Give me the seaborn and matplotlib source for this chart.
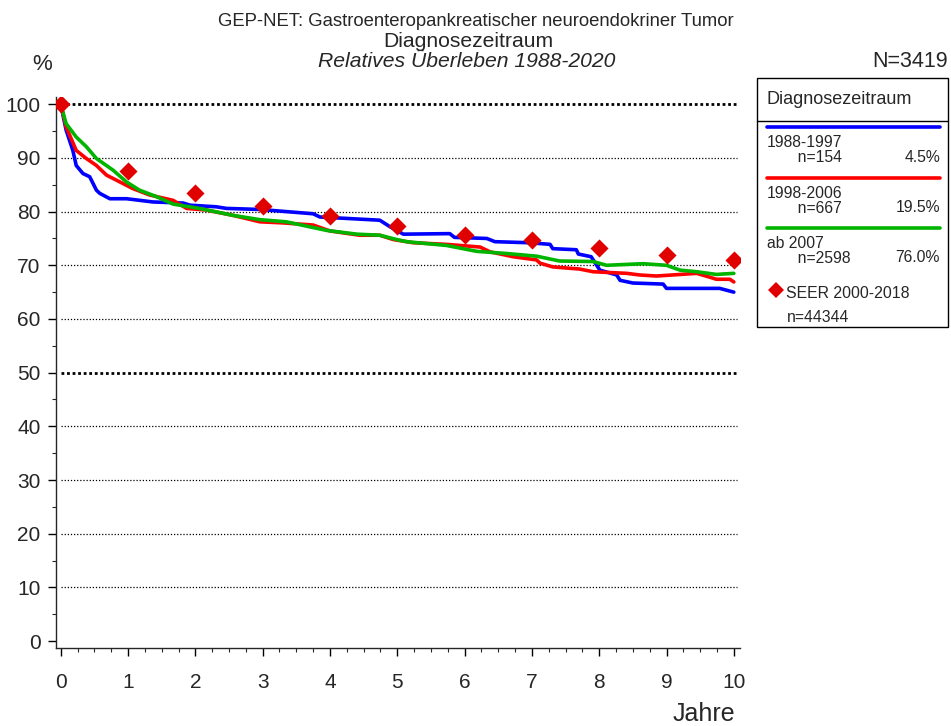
import matplotlib
matplotlib.use("Agg")
import matplotlib.pyplot as plt
import seaborn as sns
import pandas as pd
import numpy as np
from matplotlib.ticker import MultipleLocator
from matplotlib.patches import Rectangle
from matplotlib.lines import Line2D

# ---- data ----
blue_x = [0, 0.08, 0.13, 0.18, 0.23, 0.33, 0.43, 0.53, 0.58, 0.73, 0.98, 1.37, 1.82, 1.92, 2.31, 2.46,
          2.96, 3.75, 3.85, 4.74, 4.89, 5.09, 5.78, 5.85, 6.33, 6.45, 6.97, 7.27, 7.31, 7.66, 7.69,
          7.88, 8.01, 8.26, 8.31, 8.5, 8.95, 9.0, 9.79, 10.0]
blue_y = [100, 95.2, 93.3, 91.4, 88.6, 87.1, 86.5, 84.0, 83.4, 82.4, 82.4, 81.8, 81.6, 81.2, 80.9, 80.6,
          80.4, 79.6, 79.0, 78.4, 77.2, 75.8, 75.9, 75.2, 75.0, 74.4, 74.2, 73.9, 73.1, 72.9, 72.1,
          71.6, 69.1, 68.2, 67.2, 66.7, 66.5, 65.7, 65.7, 65.0]

red_x = [0, 0.08, 0.23, 0.38, 0.53, 0.68, 0.93, 1.07, 1.32, 1.67, 1.87, 2.16, 2.56, 2.96, 3.30, 3.75,
         4.0, 4.44, 4.74, 4.94, 5.24, 5.73, 6.23, 6.38, 6.72, 7.07, 7.12, 7.31, 7.71, 7.91, 8.41,
         8.60, 8.85, 9.45, 9.64, 9.74, 9.94, 10.0]
red_y = [100, 95.8, 91.4, 89.9, 88.6, 86.8, 85.2, 84.3, 83.1, 82.1, 80.6, 80.3, 79.3, 78.1, 77.9, 77.5,
         76.4, 75.6, 75.6, 74.8, 74.2, 73.9, 73.4, 72.5, 71.6, 71.0, 70.4, 69.7, 69.3, 68.8, 68.5,
         68.2, 68.0, 68.5, 67.8, 67.4, 67.4, 66.9]

green_x = [0, 0.08, 0.23, 0.38, 0.53, 0.78, 0.98, 1.17, 1.42, 1.67, 2.06, 2.56, 2.96, 3.35, 3.95, 4.40,
           4.74, 4.99, 5.14, 5.73, 6.18, 6.62, 7.07, 7.41, 7.91, 8.11, 8.65, 9.0, 9.20, 9.45, 9.74, 10.0]
green_y = [100, 96.4, 93.9, 92.1, 89.9, 87.7, 85.5, 84.0, 82.8, 81.4, 80.6, 79.3, 78.5, 78.1, 76.5, 75.8,
           75.6, 74.8, 74.4, 73.7, 72.6, 72.2, 71.7, 70.8, 70.7, 70.0, 70.3, 70.0, 69.1, 68.8, 68.3, 68.5]

seer_x = [0, 1, 2, 3, 4, 5, 6, 7, 8, 9, 10]
seer_y = [100, 87.6, 83.4, 81.0, 79.1, 77.3, 75.6, 74.7, 73.3, 71.9, 71.0]

groups = ["1988-1997", "1998-2006", "ab 2007"]
group_n = ["n=154", "n=667", "n=2598"]
group_pct = ["4.5%", "19.5%", "76.0%"]
colors = ["#0000ff", "#ff0000", "#00b400"]
y_ticks = [0, 10, 20, 30, 40, 50, 60, 70, 80, 90, 100]
x_ticks = [0, 1, 2, 3, 4, 5, 6, 7, 8, 9, 10]

df = pd.concat([
    pd.DataFrame({"Jahre": blue_x, "Surv": blue_y, "Gruppe": groups[0]}),
    pd.DataFrame({"Jahre": red_x, "Surv": red_y, "Gruppe": groups[1]}),
    pd.DataFrame({"Jahre": green_x, "Surv": green_y, "Gruppe": groups[2]}),
], ignore_index=True)

sns.set_style("ticks")
plt.rcParams['font.family'] = ['Liberation Sans', 'DejaVu Sans']

fig = plt.figure(figsize=(9.51, 7.26), dpi=100)
ax = fig.add_axes([0.0589, 0.1074, 0.7191, 0.7586])

# grid lines
for yv in y_ticks[1:]:
    thick = yv in (50, 100)
    ax.hlines(yv, 0, 10.05, colors="black", linestyles=(0, (1, 1.5)) if not thick else (0, (1, 1)),
              linewidth=2.0 if thick else 0.9, zorder=1)

sns.lineplot(data=df, x="Jahre", y="Surv", hue="Gruppe", palette=colors, estimator=None,
             sort=False, linewidth=2.6, legend=False, ax=ax, zorder=3)
sns.scatterplot(x=seer_x, y=seer_y, marker="D", s=85, color="#e00000", edgecolor="#e00000",
                linewidth=0, ax=ax, zorder=4)

ax.set_xlim(-0.07, 10.09)
ax.set_ylim(-1.3, 101.3)
ax.set_xticks(x_ticks)
ax.set_yticks(y_ticks)
ax.xaxis.set_minor_locator(MultipleLocator(0.25))
ax.yaxis.set_minor_locator(MultipleLocator(5))
ax.tick_params(axis="both", which="major", labelsize=15, length=6, width=1, color="black")
ax.tick_params(axis="x", which="major", pad=12)
ax.tick_params(axis="y", which="major", pad=5)
ax.tick_params(axis="both", which="minor", length=3, width=0.8)
ax.set_xlabel("")
ax.set_ylabel("")
for s in ["top", "right"]:
    ax.spines[s].set_visible(False)
ax.spines["left"].set_linewidth(1)
ax.spines["bottom"].set_linewidth(1)

# titles
fig.text(0.5005, 0.970, "GEP-NET: Gastroenteropankreatischer neuroendokriner Tumor",
         ha="center", va="center", fontsize=13.3)
fig.text(0.4921, 0.943, "Diagnosezeitraum", ha="center", va="center", fontsize=15.2)
fig.text(0.4911, 0.915, "Relatives Überleben 1988-2020", ha="center", va="center",
         fontsize=15.2, style="italic")
fig.text(0.997, 0.915, "N=3419", ha="right", va="center", fontsize=15.5)
fig.text(0.044, 0.911, "%", ha="center", va="center", fontsize=16)
fig.text(0.740, 0.016, "Jahre", ha="center", va="center", fontsize=18)

# legend box
W, H = 951.0, 726.0
def fx(px):
    return px / W
def fy(py):
    return 1 - py / H

fig.patches.append(Rectangle((fx(757), fy(327)), fx(948) - fx(757), fy(78) - fy(327),
                             transform=fig.transFigure, fill=False, edgecolor="black", linewidth=1))
fig.lines.append(Line2D([fx(757), fx(948)], [fy(121), fy(121)], transform=fig.transFigure,
                        color="black", linewidth=1))
fig.text(fx(767), fy(99), "Diagnosezeitraum", ha="left", va="center", fontsize=13)

line_y = [127, 178, 228]
for i in range(3):
    ly = line_y[i]
    fig.lines.append(Line2D([fx(767), fx(940)], [fy(ly), fy(ly)], transform=fig.transFigure,
                            color=colors[i], linewidth=2.6))
    fig.text(fx(767), fy(ly + 23), groups[i] + "\n       " + group_n[i], ha="left", va="center",
             fontsize=11.3, linespacing=1.0)
    fig.text(fx(940), fy(ly + 30), group_pct[i], ha="right", va="center", fontsize=11.3)

fig.lines.append(Line2D([fx(776)], [fy(290)], transform=fig.transFigure, marker="D",
                        markersize=8, color="#e00000", markeredgewidth=0, linestyle="none"))
fig.text(fx(786), fy(293), "SEER 2000-2018", ha="left", va="center", fontsize=11.4)
fig.text(fx(787), fy(318), "n=44344", ha="left", va="center", fontsize=11.3)

fig.savefig("out.png", dpi=100)
